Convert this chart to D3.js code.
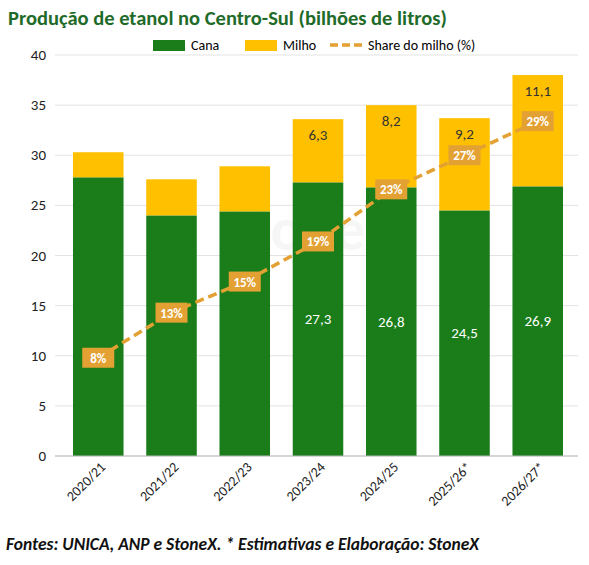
<!DOCTYPE html><html><head><meta charset="utf-8"><script src="https://cdn.jsdelivr.net/npm/d3@7"></script>
<style>body{margin:0;background:#fff}text{font-family:Calibri,Carlito,"Liberation Sans",Arial,sans-serif}</style></head><body><svg id="c" width="589" height="565"></svg><script>
const categories=["2020/21","2021/22","2022/23","2023/24","2024/25","2025/26*","2026/27*"];
const cana=[27.8,24.0,24.4,27.3,26.8,24.5,26.9];
const milho=[2.5,3.6,4.5,6.3,8.2,9.2,11.1];
const share=[8,13,15,19,23,27,29];
const sharePos=[9.8,14.3,17.4,21.4,26.6,30.0,33.4];
const yTicks=[0,5,10,15,20,25,30,35,40];
const showLabel=[false,false,false,true,true,true,true];
const svg=d3.select("#c");
const x=d3.scaleBand().domain(categories).range([62,574]).paddingInner(0.31).paddingOuter(0.15);
const y=d3.scaleLinear().domain([0,40]).range([456,55]);
svg.append("g").selectAll("line").data(yTicks).join("line").attr("x1",55).attr("x2",578).attr("y1",d=>y(d)).attr("y2",d=>y(d)).attr("stroke","#e3e3e3");
svg.append("g").selectAll("text").data(yTicks).join("text").attr("x",46).attr("y",d=>y(d)+5).attr("text-anchor","end").attr("font-size",15).attr("fill","#222").text(d=>d);
svg.append("text").attr("x",310).attr("y",250).attr("text-anchor","middle").attr("font-size",60).attr("fill","#000").attr("opacity",0.03).attr("font-weight","bold").text("StoneX");
const g=svg.append("g");
g.selectAll(".c").data(categories).join("rect").attr("x",d=>x(d)).attr("width",x.bandwidth()).attr("y",(d,i)=>y(cana[i])).attr("height",(d,i)=>y(0)-y(cana[i])).attr("fill","#1a7d1a");
g.selectAll(".m").data(categories).join("rect").attr("x",d=>x(d)).attr("width",x.bandwidth()).attr("y",(d,i)=>y(cana[i]+milho[i])).attr("height",(d,i)=>y(cana[i])-y(cana[i]+milho[i])).attr("fill","#ffc000");
const fmt=v=>String(v).replace(".",",");
categories.forEach((c,i)=>{if(!showLabel[i])return;
 g.append("text").attr("x",x(c)+x.bandwidth()/2).attr("y",y(cana[i]/2)+5).attr("text-anchor","middle").attr("font-size",15).attr("fill","#fff").text(fmt(cana[i]));
 g.append("text").attr("x",x(c)+x.bandwidth()/2).attr("y",y(cana[i]+milho[i])+21).attr("text-anchor","middle").attr("font-size",15).attr("fill","#333").text(fmt(milho[i]));});
svg.append("line").attr("x1",55).attr("x2",578).attr("y1",y(0)).attr("y2",y(0)).attr("stroke","#bbb");
const line=d3.line().x((d,i)=>x(categories[i])+x.bandwidth()/2).y(d=>y(d));
svg.append("path").attr("d",line(sharePos)).attr("fill","none").attr("stroke","#e3a133").attr("stroke-width",3.5).attr("stroke-dasharray","9,5");
categories.forEach((c,i)=>{const cx=x(c)+x.bandwidth()/2,cy=y(sharePos[i]);
 svg.append("rect").attr("x",cx-16).attr("y",cy-10).attr("width",32).attr("height",20).attr("fill","#e3a133");
 svg.append("text").attr("x",cx).attr("y",cy+5).attr("text-anchor","middle").attr("font-size",13).attr("font-weight","bold").attr("fill","#fff").text(share[i]+"%");});
svg.append("g").selectAll("text").data(categories).join("text").attr("transform",d=>`translate(${x(d)+x.bandwidth()/2+8},${468}) rotate(-45)`).attr("text-anchor","end").attr("font-size",14).attr("fill","#222").text(d=>d);
svg.append("text").attr("x",8).attr("y",25).attr("font-size",20.5).attr("font-weight","bold").attr("fill","#1f6b2a").text("Produção de etanol no Centro-Sul (bilhões de litros)");
const lg=svg.append("g");
lg.append("rect").attr("x",153).attr("y",40).attr("width",32).attr("height",11).attr("fill","#1a7d1a");
lg.append("text").attr("x",191).attr("y",50).attr("font-size",14).text("Cana");
lg.append("rect").attr("x",245).attr("y",40).attr("width",32).attr("height",11).attr("fill","#ffc000");
lg.append("text").attr("x",283).attr("y",50).attr("font-size",14).text("Milho");
lg.append("line").attr("x1",330).attr("x2",362).attr("y1",45).attr("y2",45).attr("stroke","#e3a133").attr("stroke-width",3.5).attr("stroke-dasharray","8,4");
lg.append("text").attr("x",368).attr("y",50).attr("font-size",14).text("Share do milho (%)");
svg.append("text").attr("x",6).attr("y",550).attr("font-size",17.5).attr("font-weight","bold").attr("font-style","italic").attr("fill","#111").text("Fontes: UNICA, ANP e StoneX. * Estimativas e Elaboração: StoneX");
</script></body></html>
